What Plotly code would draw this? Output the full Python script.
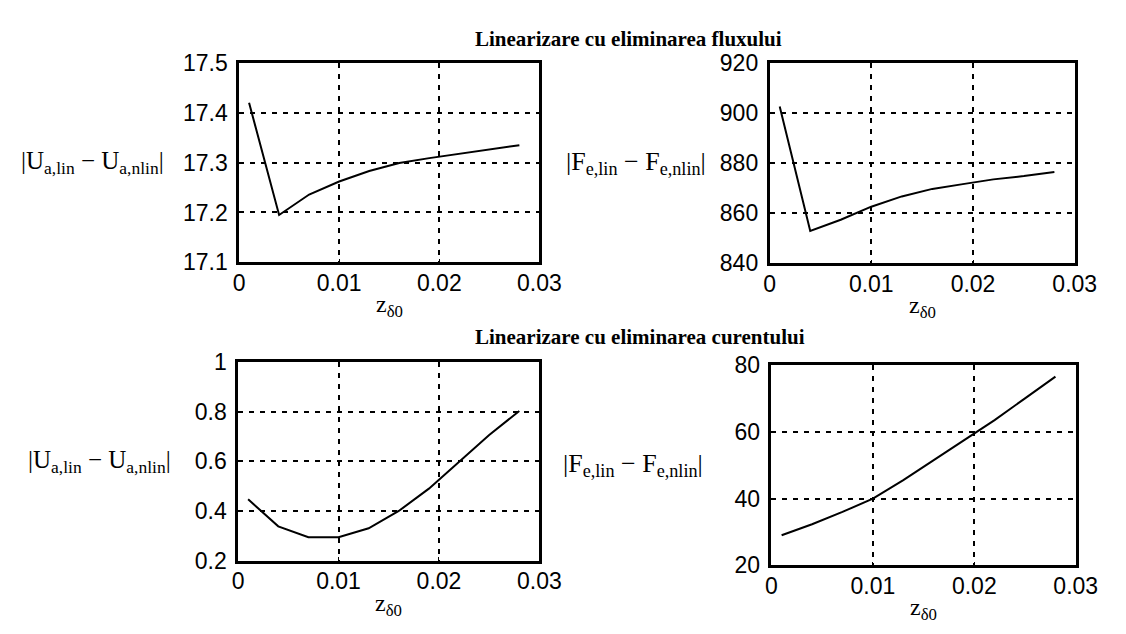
import plotly.graph_objects as go

# ---------------- data ----------------
z_vals = [0.001, 0.004, 0.007, 0.010, 0.013, 0.016, 0.019, 0.022, 0.025, 0.028]

ua_flux = [17.420, 17.195, 17.236, 17.262, 17.283, 17.299, 17.309, 17.318, 17.326, 17.335]
fe_flux = [902.6, 852.9, 857.4, 862.6, 866.7, 869.7, 871.6, 873.5, 874.8, 876.4]
ua_cur = [0.447, 0.338, 0.294, 0.294, 0.330, 0.400, 0.490, 0.600, 0.706, 0.803]
fe_cur = [29.0, 32.3, 36.0, 40.0, 45.5, 51.5, 57.5, 63.5, 70.0, 76.5]

x_tickvals = [0, 0.01, 0.02, 0.03]
x_ticktext = ["0", "0.01", "0.02", "0.03"]

ua_flux_ticks = [17.1, 17.2, 17.3, 17.4, 17.5]
ua_flux_text = ["17.1", "17.2", "17.3", "17.4", "17.5"]
fe_flux_ticks = [840, 860, 880, 900, 920]
fe_flux_text = ["840", "860", "880", "900", "920"]
ua_cur_ticks = [0.2, 0.4, 0.6, 0.8, 1.0]
ua_cur_text = ["0.2", "0.4", "0.6", "0.8", "1"]
fe_cur_ticks = [20, 40, 60, 80]
fe_cur_text = ["20", "40", "60", "80"]

title_flux = "Linearizare cu eliminarea fluxului"
title_cur = "Linearizare cu eliminarea curentului"
ylab_u = "|U<sub>a,lin</sub> − U<sub>a,nlin</sub>|"
ylab_f = "|F<sub>e,lin</sub> − F<sub>e,nlin</sub>|"
xlab = "z<sub>δ0</sub>"

# ---------------- layout helpers ----------------
W, H = 1126, 634

def px_x(p):
    return p / W

def px_y(p):
    return 1 - p / H

panels = [
    # (y data, yticks, ytext, yrange, box px (l, t, r, b))
    (ua_flux, ua_flux_ticks, ua_flux_text, [17.1, 17.5], (239, 52, 547, 260)),
    (fe_flux, fe_flux_ticks, fe_flux_text, [840, 920], (783, 52, 1096, 261)),
    (ua_cur, ua_cur_ticks, ua_cur_text, [0.2, 1.0], (238, 364, 547, 571)),
    (fe_cur, fe_cur_ticks, fe_cur_text, [20, 80], (785, 367, 1097, 576)),
]
ylabels = [ylab_u, ylab_f, ylab_u, ylab_f]
ylabel_x = [89, 646, 96, 643]
ylabel_size = [25, 26, 25, 26]

fig = go.Figure()
tick_font = dict(family="Liberation Sans, Arial", size=23, color="black")
serif = "Liberation Serif, Times New Roman, serif"

for i, (yd, yt, ytt, yr, (l, t, r, b)) in enumerate(panels):
    n = "" if i == 0 else str(i + 1)
    fig.add_trace(go.Scatter(x=z_vals, y=yd, mode="lines",
                             line=dict(color="black", width=2),
                             xaxis="x" + n, yaxis="y" + n, showlegend=False))
    common = dict(showline=True, mirror=True, linecolor="black", linewidth=2.5,
                  showgrid=True, gridcolor="black", gridwidth=1.6, griddash="5px,6px",
                  zeroline=False, ticks="inside", ticklen=4, tickcolor="black",
                  tickfont=tick_font)
    fig.layout["xaxis" + n] = dict(domain=[px_x(l), px_x(r)], range=[0, 0.03],
                                   tickvals=x_tickvals, ticktext=x_ticktext,
                                   anchor="y" + n, ticklabelstandoff=-2, **common)
    fig.layout["yaxis" + n] = dict(domain=[px_y(b), px_y(t)], range=yr,
                                   tickvals=yt, ticktext=ytt,
                                   anchor="x" + n, ticklabelstandoff=4, **common)
    # y label
    fig.add_annotation(x=px_x(ylabel_x[i]), y=px_y((t + b) / 2), xref="paper", yref="paper",
                       text=ylabels[i], showarrow=False, xanchor="center", yanchor="middle",
                       font=dict(family=serif, size=ylabel_size[i], color="black"))
    # x label
    fig.add_annotation(x=px_x((l + r) / 2), y=px_y(b + 46), xref="paper", yref="paper",
                       text=xlab, showarrow=False, xanchor="center", yanchor="middle",
                       font=dict(family=serif, size=24, color="black"))

fig.add_annotation(x=px_x(479), y=px_y(27), xref="paper", yref="paper", text="<b>" + title_flux + "</b>",
                   showarrow=False, xanchor="left", yanchor="middle",
                   font=dict(family=serif, size=21, color="black"))
fig.add_annotation(x=px_x(479), y=px_y(338), xref="paper", yref="paper", text="<b>" + title_cur + "</b>",
                   showarrow=False, xanchor="left", yanchor="middle",
                   font=dict(family=serif, size=21, color="black"))

fig.update_layout(width=W, height=H, margin=dict(l=0, r=0, t=0, b=0),
                  paper_bgcolor="white", plot_bgcolor="white", showlegend=False)

fig.write_html("out.html")
